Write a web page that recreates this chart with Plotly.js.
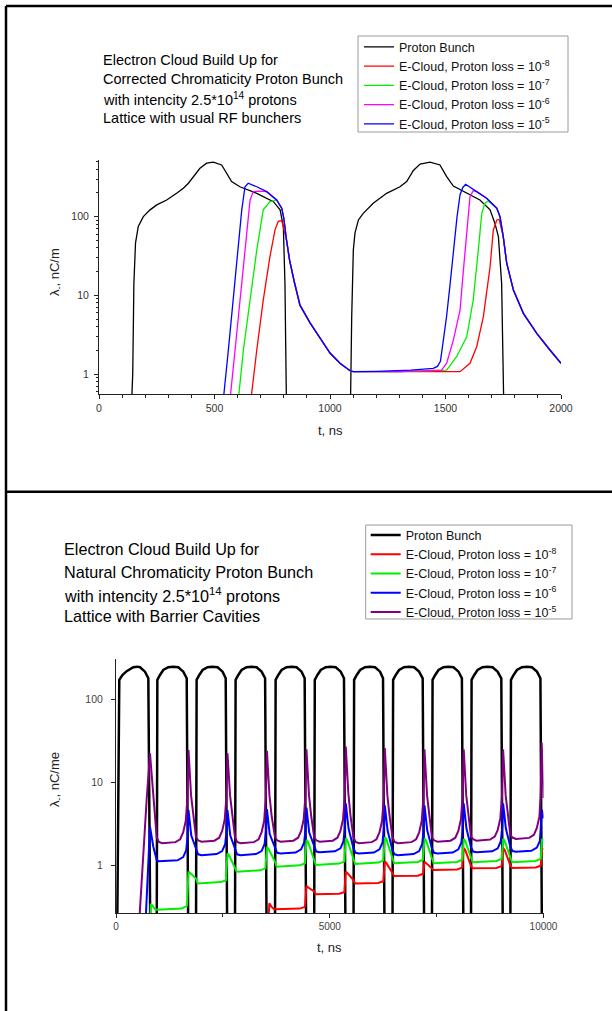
<!DOCTYPE html>
<html>
<head>
<meta charset="utf-8">
<script src="https://cdn.plot.ly/plotly-3.0.1.min.js"></script>
<style>
html,body{margin:0;padding:0;background:#fff;}
#chart{width:612px;height:1011px;}
</style>
</head>
<body>
<div id="chart"></div>
<script>
// ---------------- TOP CHART DATA (t in ns, lambda in nC/m) ----------------
const topBunchT = [100, 139, 146, 151, 158, 170, 192, 221, 250, 293, 336, 365, 387, 416, 437, 466, 495, 531, 553, 574, 610, 683, 755, 784, 798, 805, 812,
                   1088, 1094, 1101, 1108, 1123, 1144, 1187, 1245, 1303, 1332, 1361, 1390, 1433, 1476, 1505, 1534, 1592, 1649, 1693, 1714, 1729, 1743, 1753];
const topBunchV = [0.3, 0.3, 1, 14, 46, 75, 100, 122, 141, 163, 198, 230, 266, 339, 412, 478, 492, 454, 355, 279, 240, 198, 155, 122, 75, 14, 0.3,
                   0.3, 5.35, 37.6, 61.6, 90.8, 110, 148, 198, 240, 279, 387, 466, 492, 454, 322, 245, 198, 163, 122, 82, 55.6, 14.2, 0.3];

// common decay envelope after first and second bunch (all E-cloud curves merge on it)
const env1T = [646, 660, 683, 726, 769, 791, 800, 812, 825, 845, 870, 913, 957, 1000, 1043, 1087, 1100];
const env1V = [266, 255, 240, 208, 163, 128, 95, 50, 28, 15, 7.5, 4.5, 2.9, 1.85, 1.37, 1.1, 1.07];
const env2T = [1587, 1600, 1635, 1678, 1722, 1736, 1750, 1765, 1794, 1837, 1895, 1952, 2000];
const env2V = [258, 245, 208, 171, 128, 100, 55.6, 25.6, 11.7, 5.9, 3.29, 2.02, 1.37];

// proton loss 1e-8 (red)
const red1T = [650, 661, 683, 711, 740, 762, 776, 791];
const red1V = [0.35, 0.57, 2.02, 8.7, 31, 68, 87, 89];
const red2T = [1300, 1500, 1563, 1606, 1635, 1664, 1693, 1707, 1722, 1732];
const red2V = [1.06, 1.06, 1.07, 1.37, 2.22, 5.35, 23.1, 67.8, 90.8, 92.2];
// proton loss 1e-7 (green)
const grn1T = [600, 606, 625, 654, 683, 711, 740, 750];
const grn1V = [0.35, 0.57, 2.02, 8.7, 37.6, 122, 155, 158];
const grn2T = [1300, 1505, 1548, 1592, 1620, 1642, 1657, 1671, 1685];
const grn2V = [1.07, 1.12, 1.66, 2.97, 8.7, 37.6, 110, 148, 158];
// proton loss 1e-6 (magenta)
const mag1T = [565, 570, 589, 610, 632, 654, 668, 690];
const mag1V = [0.35, 0.57, 2.02, 8.7, 37.6, 163, 208, 211];
const mag2T = [1300, 1483, 1505, 1534, 1563, 1577, 1592, 1606, 1620];
const mag2V = [1.07, 1.12, 1.37, 2.7, 6.5, 20, 61.6, 179, 214];
// proton loss 1e-5 (blue)
const blu1T = [535, 541, 560, 581, 603, 618, 632];
const blu1V = [0.35, 0.57, 2.02, 8.7, 37.6, 122, 240];
const blu2T = [1200, 1350, 1447, 1465, 1478, 1490, 1505, 1520, 1535, 1550, 1563, 1575];
const blu2V = [1.08, 1.12, 1.18, 1.25, 1.45, 2.6, 5.5, 14, 38, 100, 190, 235];

// ---------------- BOTTOM CHART DATA (t in ns, lambda in nC/me) ----------------
const botBunchT = [25, 77, 150, 250, 405, 500, 561, 678, 756, 805,
  952, 967, 1029, 1107, 1223, 1340, 1457, 1574, 1654, 1691,
  1871, 1886, 1948, 2026, 2142, 2259, 2376, 2493, 2566, 2603,
  2783, 2798, 2860, 2938, 3054, 3171, 3288, 3405, 3488, 3525,
  3719, 3734, 3796, 3874, 3990, 4107, 4224, 4341, 4413, 4450,
  4635, 4650, 4712, 4790, 4906, 5023, 5140, 5257, 5333, 5370,
  5555, 5570, 5632, 5710, 5826, 5943, 6060, 6177, 6246, 6283,
  6467, 6482, 6544, 6622, 6738, 6855, 6972, 7089, 7174, 7211,
  7390, 7405, 7467, 7545, 7661, 7778, 7895, 8012, 8091, 8128,
  8303, 8318, 8380, 8458, 8574, 8691, 8808, 8925, 9013, 9050,
  9224, 9239, 9301, 9379, 9495, 9612, 9729, 9846, 9928, 9965];
const botBunchV = [0.1, 171, 196, 218, 243, 247, 243, 215, 179, 0.1,
  0.1, 171, 196, 225, 243, 247, 243, 215, 179, 0.1,
  0.1, 171, 196, 225, 243, 247, 243, 215, 179, 0.1,
  0.1, 171, 196, 225, 243, 247, 243, 215, 179, 0.1,
  0.1, 171, 196, 225, 243, 247, 243, 215, 179, 0.1,
  0.1, 171, 196, 225, 243, 247, 243, 215, 179, 0.1,
  0.1, 171, 196, 225, 243, 247, 243, 215, 179, 0.1,
  0.1, 171, 196, 225, 243, 247, 243, 215, 179, 0.1,
  0.1, 171, 196, 225, 243, 247, 243, 215, 179, 0.1,
  0.1, 171, 196, 225, 243, 247, 243, 215, 179, 0.1,
  0.1, 171, 196, 225, 243, 247, 243, 215, 179, 0.1];

// proton loss 1e-8 (red)
const bRedT = [3565, 3586, 3641, 3700,
  4300, 4420, 4455, 4490, 4635, 4675,
  5220, 5340, 5375, 5410, 5555, 5595,
  6133, 6253, 6288, 6323, 6467, 6507,
  7061, 7181, 7216, 7251, 7390, 7430,
  7978, 8098, 8133, 8168, 8303, 8343,
  8900, 9020, 9055, 9090, 9224, 9264,
  9815, 9935, 9965, 10000];
const bRedV = [0.2, 0.354, 0.32, 0.3,
  0.305, 0.32, 0.57, 0.55, 0.49, 0.453,
  0.46, 0.48, 0.847, 0.82, 0.67, 0.61,
  0.62, 0.65, 1.12, 1.08, 0.82, 0.75,
  0.76, 0.8, 1.12, 1.08, 0.95, 0.89,
  0.9, 0.95, 1.62, 1.55, 1.0, 0.93,
  0.94, 0.99, 1.62, 1.55, 1.01, 0.94,
  0.95, 1.0, 1.6, 1.58];
// proton loss 1e-7 (green)
const bGrnT = [790, 815, 850, 910, 952,
  1541, 1661, 1696, 1731, 1871, 1911,
  2453, 2573, 2608, 2643, 2783, 2823,
  3375, 3495, 3530, 3565, 3719, 3759,
  4300, 4420, 4455, 4490, 4635, 4675,
  5220, 5340, 5375, 5410, 5555, 5595,
  6133, 6253, 6288, 6323, 6467, 6507,
  7061, 7181, 7216, 7251, 7390, 7430,
  7978, 8098, 8133, 8168, 8303, 8343,
  8900, 9020, 9055, 9090, 9224, 9264,
  9815, 9935, 9965, 10000];
const bGrnV = [0.15, 0.34, 0.335, 0.3, 0.295,
  0.305, 0.33, 0.847, 0.82, 0.7, 0.61,
  0.635, 0.67, 1.41, 1.34, 0.97, 0.847,
  0.88, 0.93, 1.69, 1.6, 1.12, 0.97,
  1.01, 1.07, 2.04, 1.94, 1.17, 1.02,
  1.06, 1.12, 2.14, 2.03, 1.21, 1.05,
  1.09, 1.15, 2.2, 2.09, 1.23, 1.07,
  1.11, 1.18, 2.14, 2.03, 1.23, 1.07,
  1.11, 1.18, 2.1, 2.0, 1.26, 1.1,
  1.14, 1.21, 2.1, 2.0, 1.26, 1.1,
  1.14, 1.21, 2.1, 2.0];
// proton loss 1e-6 (blue)
const bBluT = [690, 702, 750, 795, 873, 952, 1000,
  1441, 1571, 1641, 1676, 1696, 1761, 1871, 1921, 2001,
  2353, 2483, 2553, 2588, 2608, 2673, 2783, 2833, 2913,
  3275, 3405, 3475, 3510, 3530, 3595, 3719, 3769, 3849,
  4200, 4330, 4400, 4435, 4455, 4520, 4635, 4685, 4765,
  5120, 5250, 5320, 5355, 5375, 5440, 5555, 5605, 5685,
  6033, 6163, 6233, 6268, 6288, 6353, 6467, 6517, 6597,
  6961, 7091, 7161, 7196, 7216, 7281, 7390, 7440, 7520,
  7878, 8008, 8078, 8113, 8133, 8198, 8303, 8353, 8433,
  8800, 8930, 9000, 9035, 9055, 9120, 9224, 9274, 9354,
  9715, 9845, 9915, 9945, 9962, 10000];
const bBluV = [0.2, 0.27, 1.3, 2.94, 1.69, 1.17, 1.13,
  1.16, 1.27, 1.53, 2.26, 4.67, 2.3, 1.54, 1.37, 1.34,
  1.38, 1.5, 1.81, 2.68, 4.67, 2.3, 1.54, 1.37, 1.34,
  1.38, 1.5, 1.81, 2.68, 4.8, 2.4, 1.61, 1.43, 1.4,
  1.44, 1.57, 1.89, 2.8, 5.0, 2.5, 1.67, 1.48, 1.45,
  1.49, 1.62, 1.96, 2.9, 5.6, 2.8, 1.61, 1.43, 1.4,
  1.44, 1.57, 1.89, 2.8, 5.3, 2.65, 1.54, 1.37, 1.34,
  1.38, 1.5, 1.81, 2.68, 5.3, 2.65, 1.61, 1.43, 1.4,
  1.44, 1.57, 1.89, 2.8, 5.6, 2.8, 1.67, 1.48, 1.45,
  1.49, 1.62, 1.96, 2.9, 5.6, 2.8, 1.69, 1.5, 1.47,
  1.51, 1.65, 1.98, 3.0, 4.7, 3.7];
// proton loss 1e-5 (purple)
const bPurT = [540, 639, 717, 795, 865, 915, 952, 1002, 1082,
  1391, 1501, 1571, 1631, 1671, 1696, 1756, 1806, 1871, 1921, 2001,
  2303, 2413, 2483, 2543, 2583, 2608, 2668, 2718, 2783, 2833, 2913,
  3225, 3335, 3405, 3465, 3505, 3530, 3590, 3640, 3719, 3769, 3849,
  4150, 4260, 4330, 4390, 4430, 4455, 4515, 4565, 4635, 4685, 4765,
  5070, 5180, 5250, 5310, 5350, 5375, 5435, 5485, 5555, 5605, 5685,
  5983, 6093, 6163, 6223, 6263, 6288, 6348, 6398, 6467, 6517, 6597,
  6911, 7021, 7091, 7151, 7191, 7216, 7276, 7326, 7390, 7440, 7520,
  7828, 7938, 8008, 8068, 8108, 8133, 8193, 8243, 8303, 8353, 8433,
  8750, 8860, 8930, 8990, 9030, 9055, 9115, 9165, 9224, 9274, 9354,
  9665, 9775, 9845, 9905, 9935, 9958, 10000];
const bPurV = [0.2, 1.55, 6.2, 22.4, 7, 4, 2.2, 1.93, 1.86,
  1.92, 2.08, 2.51, 3.44, 6.5, 24.6, 7, 4, 2.2, 2.02, 1.94,
  2.0, 2.17, 2.62, 3.59, 6.8, 22.4, 7, 4, 2.2, 1.93, 1.86,
  1.92, 2.08, 2.51, 3.44, 6.5, 24, 7, 4, 2.2, 2.02, 1.94,
  2.0, 2.17, 2.62, 3.59, 6.8, 25, 7, 4, 2.2, 2.02, 1.94,
  2.0, 2.17, 2.62, 3.59, 6.8, 27, 7.4, 4, 2.2, 1.93, 1.86,
  1.92, 2.08, 2.51, 3.44, 6.5, 26, 7, 4, 2.2, 1.93, 1.86,
  1.92, 2.08, 2.51, 3.44, 6.5, 25, 7, 4, 2.2, 2.02, 1.94,
  2.0, 2.17, 2.62, 3.59, 6.8, 25, 7, 4, 2.25, 2.08, 2.0,
  2.06, 2.24, 2.7, 3.7, 7, 25, 7, 4, 2.35, 2.18, 2.1,
  2.16, 2.35, 2.84, 3.9, 7.5, 30, 6.5];

// ---------------- labels ----------------
const legendNames = ['Proton Bunch',
  'E-Cloud, Proton loss = 10<sup>-8</sup>',
  'E-Cloud, Proton loss = 10<sup>-7</sup>',
  'E-Cloud, Proton loss = 10<sup>-6</sup>',
  'E-Cloud, Proton loss = 10<sup>-5</sup>'];
const topTitleLines = ['Electron Cloud Build Up for',
  'Corrected Chromaticity Proton Bunch',
  'with intencity 2.5*10<sup>14</sup> protons',
  'Lattice with usual RF bunchers'];
const botTitleLines = ['Electron Cloud Build Up for',
  'Natural Chromaticity Proton Bunch',
  'with intencity 2.5*10<sup>14</sup> protons',
  'Lattice with Barrier Cavities'];
const xTitle = 't, ns';
const yTitleTop = 'λ<sub>-</sub>, nC/m';
const yTitleBot = 'λ<sub>-</sub>, nC/me';
const logTickVals = [1, 10, 100];
const logTickText = ['1', '10', '100'];
const topXTickVals = [0, 500, 1000, 1500, 2000];
const topXTickText = ['0', '500', '1000', '1500', '2000'];
const botXTickVals = [0, 5000, 10000];
const botXTickText = ['0', '5000', '10000'];

// ---------------- build ----------------
const W = 612, H = 1011;
const px = v => v / W;            // pixel -> paper (x)
const py = v => 1 - v / H;        // pixel -> paper (y)
const FONT = 'Liberation Sans, Arial, sans-serif';

function join(t1, v1, env, envV, from) {
  return [t1.concat(env.slice(from)), v1.concat(envV.slice(from))];
}
const redA = join(red1T, red1V, env1T, env1V, 7);
const redB = join(red2T, red2V, env2T, env2V, 6);
const grnA = join(grn1T, grn1V, env1T, env1V, 4);
const grnB = join(grn2T, grn2V, env2T, env2V, 4);
const magA = join(mag1T, mag1V, env1T, env1V, 3);
const magB = join(mag2T, mag2V, env2T, env2V, 2);
const bluA = join(blu1T, blu1V, env1T, env1V, 0);
const bluB = join(blu2T, blu2V, env2T, env2V, 0);

const topW = 1.3;
const traces = [
  {x: topBunchT, y: topBunchV, name: legendNames[0], line: {color: '#000000', width: topW}},
  {x: redA[0].concat(redB[0]), y: redA[1].concat(redB[1]), name: legendNames[1], line: {color: '#ff0000', width: topW}},
  {x: grnA[0].concat(grnB[0]), y: grnA[1].concat(grnB[1]), name: legendNames[2], line: {color: '#00ee00', width: topW}},
  {x: magA[0].concat(magB[0]), y: magA[1].concat(magB[1]), name: legendNames[3], line: {color: '#ff00ff', width: topW}},
  {x: bluA[0].concat(bluB[0]), y: bluA[1].concat(bluB[1]), name: legendNames[4], line: {color: '#0000ff', width: topW}},
  {x: botBunchT, y: botBunchV, name: legendNames[0], xaxis: 'x2', yaxis: 'y2', legend: 'legend2', line: {color: '#000000', width: 2.5}},
  {x: bRedT, y: bRedV, name: legendNames[1], xaxis: 'x2', yaxis: 'y2', legend: 'legend2', line: {color: '#ff0000', width: 2}},
  {x: bGrnT, y: bGrnV, name: legendNames[2], xaxis: 'x2', yaxis: 'y2', legend: 'legend2', line: {color: '#00ee00', width: 2}},
  {x: bBluT, y: bBluV, name: legendNames[3], xaxis: 'x2', yaxis: 'y2', legend: 'legend2', line: {color: '#0000ff', width: 2}},
  {x: bPurT, y: bPurV, name: legendNames[4], xaxis: 'x2', yaxis: 'y2', legend: 'legend2', line: {color: '#800080', width: 2}}
].map(t => Object.assign({type: 'scatter', mode: 'lines', hoverinfo: 'skip'}, t));

const tickFont = {family: FONT, size: 10.5, color: '#333'};
const axBase = {
  showline: true, linecolor: '#222', linewidth: 1, showgrid: false, zeroline: false,
  ticks: 'outside', ticklen: 4, tickwidth: 1, tickcolor: '#222', tickfont: tickFont
};

const annotations = [];
function textLine(txt, x, y, size) {
  annotations.push({xref: 'paper', yref: 'paper', x: px(x), y: py(y), xanchor: 'left', yanchor: 'middle',
    text: txt, showarrow: false, font: {family: FONT, size: size, color: '#000'}});
}
[60, 78.5, 99, 117.5].forEach((y, i) => textLine(topTitleLines[i], 101, y, 14.5));
[548.5, 571.5, 595, 616].forEach((y, i) => textLine(botTitleLines[i], 62, y, 16.2));
function centerText(txt, x, y, angle) {
  annotations.push({xref: 'paper', yref: 'paper', x: px(x), y: py(y), xanchor: 'center', yanchor: 'middle',
    text: txt, showarrow: false, textangle: angle, font: {family: FONT, size: 13, color: '#222'}});
}
centerText(xTitle, 330, 430, 0);
centerText(yTitleTop, 55, 272, -90);
centerText(xTitle, 329.5, 947.5, 0);
centerText(yTitleBot, 55, 780, -90);

const layout = {
  width: W, height: H,
  margin: {l: 0, r: 0, t: 0, b: 0},
  paper_bgcolor: '#ffffff', plot_bgcolor: 'rgba(0,0,0,0)',
  font: {family: FONT},
  xaxis: Object.assign({}, axBase, {domain: [px(99), px(561)], range: [0, 2000],
    tickmode: 'array', tickvals: topXTickVals, ticktext: topXTickText,
    minor: {ticks: 'outside', ticklen: 2.5, dtick: 100, tick0: 0, tickcolor: '#222'}, anchor: 'y'}),
  yaxis: Object.assign({}, axBase, {domain: [py(394), py(160)], type: 'log', range: [-0.254, 2.72],
    tickmode: 'array', tickvals: logTickVals, ticktext: logTickText, ticklabelstandoff: 3,
    minor: {ticks: 'outside', ticklen: 2.5, dtick: 'D1', tickcolor: '#222'}, anchor: 'x'}),
  xaxis2: Object.assign({}, axBase, {domain: [px(116), px(543.5)], range: [0, 10000],
    tickmode: 'array', tickvals: botXTickVals, ticktext: botXTickText,
    tickfont: {family: FONT, size: 10, color: '#444'},
    minor: {ticks: 'outside', ticklen: 3, dtick: 2500, tick0: 0, tickcolor: '#222'}, anchor: 'y2'}),
  yaxis2: Object.assign({}, axBase, {domain: [py(913.3), py(659.3)], type: 'log', range: [-0.572, 2.481],
    tickmode: 'array', tickvals: logTickVals, ticktext: logTickText, ticklabelstandoff: 6,
    tickfont: {family: FONT, size: 10.5, color: '#444'}, anchor: 'x2'}),
  showlegend: true,
  legend: {x: px(359), y: py(32.2), xanchor: 'left', yanchor: 'top', bgcolor: 'rgba(0,0,0,0)', borderwidth: 0,
    font: {family: FONT, size: 12.5, color: '#111'}, tracegroupgap: 0},
  legend2: {x: px(365.7), y: py(520.4), xanchor: 'left', yanchor: 'top', bgcolor: 'rgba(0,0,0,0)', borderwidth: 0,
    font: {family: FONT, size: 12.5, color: '#111'}, tracegroupgap: 0},
  annotations: annotations,
  shapes: [
    // outer frame and divider
    {type: 'line', xref: 'paper', yref: 'paper', x0: px(6), x1: px(6), y0: py(6), y1: py(1011), line: {color: '#000', width: 2.5}},
    {type: 'line', xref: 'paper', yref: 'paper', x0: px(6), x1: px(612), y0: py(6), y1: py(6), line: {color: '#000', width: 2.5}},
    {type: 'line', xref: 'paper', yref: 'paper', x0: px(6), x1: px(612), y0: py(491.7), y1: py(491.7), line: {color: '#000', width: 2.5}},
    // legend boxes
    {type: 'rect', xref: 'paper', yref: 'paper', x0: px(358), x1: px(568), y0: py(132), y1: py(36), line: {color: '#9a9a9a', width: 1}},
    {type: 'rect', xref: 'paper', yref: 'paper', x0: px(365.7), x1: px(572), y0: py(619), y1: py(525), line: {color: '#9a9a9a', width: 1}}
  ]
};

Plotly.newPlot('chart', traces, layout, {displayModeBar: false, staticPlot: true});
</script>
</body>
</html>
